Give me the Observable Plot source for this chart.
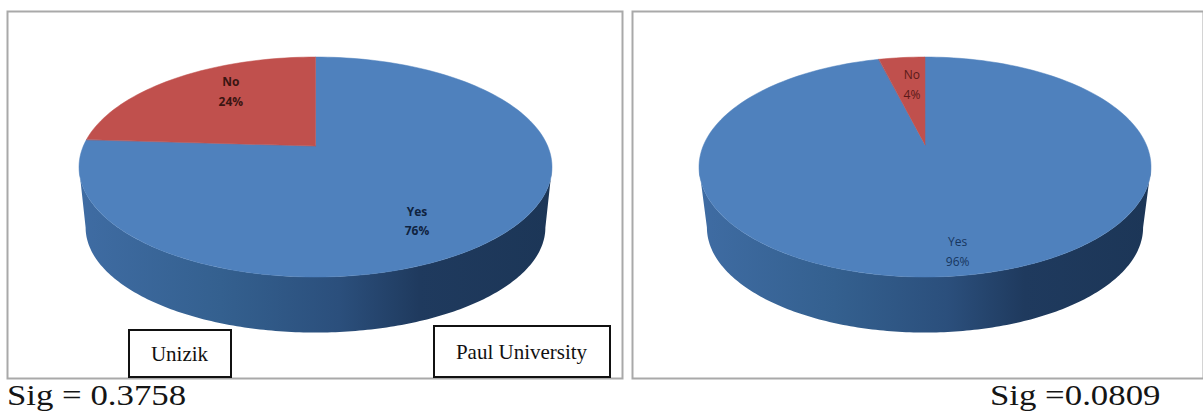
<!DOCTYPE html>
<html>
<head>
<meta charset="utf-8">
<script src="https://cdn.jsdelivr.net/npm/d3@7"></script>
<script src="https://cdn.jsdelivr.net/npm/@observablehq/plot@0.6"></script>
<style>
  html, body { margin: 0; background: #fff; width: 1203px; height: 412px; overflow: hidden; }
  #charts { display: flex; height: 380px; }
  #charts svg { display: block; }
  #captions { position: relative; height: 32px; }
  #captions span {
    position: absolute; top: 0; transform-origin: left top; white-space: pre;
    font: 29px/30px "Liberation Serif", serif; color: #151515;
  }
</style>
</head>
<body>
<div id="charts"></div>
<div id="captions"></div>
<script>
// Survey responses per university
const categories = ["Yes", "No"];
const unizikShares = [76, 24];
const paulShares = [96, 4];
const sigCaptions = ["Sig = 0.3758", "Sig =0.0809"];
const boxLabels = ["Unizik", "Paul University"];
const sliceColors = ["#4f81bd", "#c0504d"];

// Pie drawing helpers. The disc is tilted in perspective: `lift` moves the
// disc centre towards the far rim, like a projective view of a circle.
const project = (u, v, lift) => {
  const w = 1 + lift * v;
  return [u * Math.sqrt(1 - lift * lift) / w, (v + lift) / w];
};

// One slice as an arc swept around the centre, clockwise from `from` percent to `to` percent.
function sliceArc(category, from, to, lift) {
  const steps = Math.max(4, Math.round((to - from) * 2));
  const centre = project(0, 0, lift);
  return d3.range(steps + 1).map((i) => {
    const a = (from + (to - from) * i / steps) / 100 * 2 * Math.PI;
    const [x, y] = project(Math.sin(a), Math.cos(a), lift);
    return {category, x, y, cx: centre[0], cy: centre[1]};
  });
}

// Side wall between the near half of the top rim and the near half of the base rim.
function wallBand(baseScaleX, baseScaleY, drop) {
  return d3.range(0, 181).map((d) => {
    const t = Math.PI + d / 180 * Math.PI;
    return {
      x1: Math.cos(t), y1: Math.sin(t),
      x2: Math.cos(t) * baseScaleX, y2: Math.sin(t) * baseScaleY - drop
    };
  });
}

function wallGradient(id, stops) {
  const defs = d3.create("svg:defs");
  const g = defs.append("linearGradient").attr("id", id);
  for (const [offset, color] of stops) {
    g.append("stop").attr("offset", offset).attr("stop-color", color);
  }
  return () => defs.node();
}

const wallStops = [[0, "#3f6ca3"], [0.3, "#34608f"], [0.55, "#2b4f7c"], [0.72, "#1f3a5e"], [1, "#1c3657"]];

function pieChart({id, shares, lift, width, frame, xRange, yRange, base, labels, labelWeight, boxes}) {
  const [yes, no] = shares;
  const slices = [
    ...sliceArc(categories[0], 0, yes, lift),
    ...sliceArc(categories[1], yes, yes + no, lift)
  ];
  const pxX = (p) => -1 + 2 * (p - xRange[0]) / (xRange[1] - xRange[0]);
  const pxY = (p) => -1 + 2 * (yRange[0] - p) / (yRange[0] - yRange[1]);
  const boxData = boxes.map((b) => ({...b, x1: pxX(b.left), x2: pxX(b.right), y1: pxY(b.bottom), y2: pxY(b.top)}));
  return Plot.plot({
    width,
    height: 380,
    marginLeft: frame.left, marginRight: width - frame.right,
    marginTop: frame.top, marginBottom: 380 - frame.bottom,
    x: {axis: null, domain: [-1, 1], range: xRange},
    y: {axis: null, domain: [-1, 1], range: yRange},
    color: {domain: categories, range: sliceColors},
    style: {background: "transparent", overflow: "visible"},
    marks: [
      wallGradient(id, wallStops),
      Plot.area(wallBand(...base), {x1: "x1", y1: "y1", x2: "x2", y2: "y2", fill: `url(#${id})`}),
      Plot.area(slices, {x1: "x", y1: "y", x2: "cx", y2: "cy", z: "category", fill: "category", stroke: "category", strokeWidth: 0.5}),
      Plot.text(labels, {
        x: "x", y: "y", text: "text", fill: "fill", fontWeight: labelWeight,
        fontFamily: "Open Sans", fontSize: 12, lineHeight: 1.65, lineAnchor: "middle"
      }),
      Plot.frame({stroke: "#a9a9a9", strokeWidth: 2}),
      Plot.rect(boxData, {x1: "x1", x2: "x2", y1: "y1", y2: "y2", fill: "#fff", stroke: "#111", strokeWidth: 2}),
      Plot.text(boxData, {
        x: (d) => (d.x1 + d.x2) / 2, y: (d) => (d.y1 + d.y2) / 2, text: "label", dx: -1,
        fontFamily: "Liberation Serif", fontSize: 21, fill: "#111"
      })
    ]
  });
}

const charts = document.getElementById("charts");

charts.append(pieChart({
  id: "wall-left",
  shares: unizikShares,
  lift: 0.19,
  width: 627,
  frame: {left: 7, right: 622, top: 11, bottom: 378},
  xRange: [79, 552],
  yRange: [277, 57],
  base: [0.972, 0.955, 0.55],
  labelWeight: "bold",
  labels: [
    {x: -0.36, y: 0.705, text: `${categories[1]}\n${unizikShares[1]}%`, fill: "#3a1512"},
    {x: 0.427, y: -0.47, text: `${categories[0]}\n${unizikShares[0]}%`, fill: "#10233f"}
  ],
  boxes: [
    {label: boxLabels[0], left: 129, right: 231, top: 330, bottom: 377},
    {label: boxLabels[1], left: 434, right: 610, top: 326, bottom: 377}
  ]
}));

charts.append(pieChart({
  id: "wall-right",
  shares: paulShares,
  lift: 0.2,
  width: 576,
  frame: {left: 5, right: 576, top: 11, bottom: 378},
  xRange: [72, 524],
  yRange: [277, 57],
  base: [0.965, 0.955, 0.55],
  labelWeight: "normal",
  labels: [
    {x: -0.06, y: 0.77, text: `${categories[1]}\n${paulShares[1]}%`, fill: "#5a1a18"},
    {x: 0.142, y: -0.75, text: `${categories[0]}\n${paulShares[0]}%`, fill: "#17365f"}
  ],
  boxes: []
}));

// Significance captions under each panel
const captions = document.getElementById("captions");
[[7, 1.2], [990, 1.2]].forEach(([left, stretch], i) => {
  const s = document.createElement("span");
  s.textContent = sigCaptions[i];
  s.style.left = left + "px";
  s.style.transform = `scaleX(${stretch})`;
  captions.append(s);
});
</script>
</body>
</html>
